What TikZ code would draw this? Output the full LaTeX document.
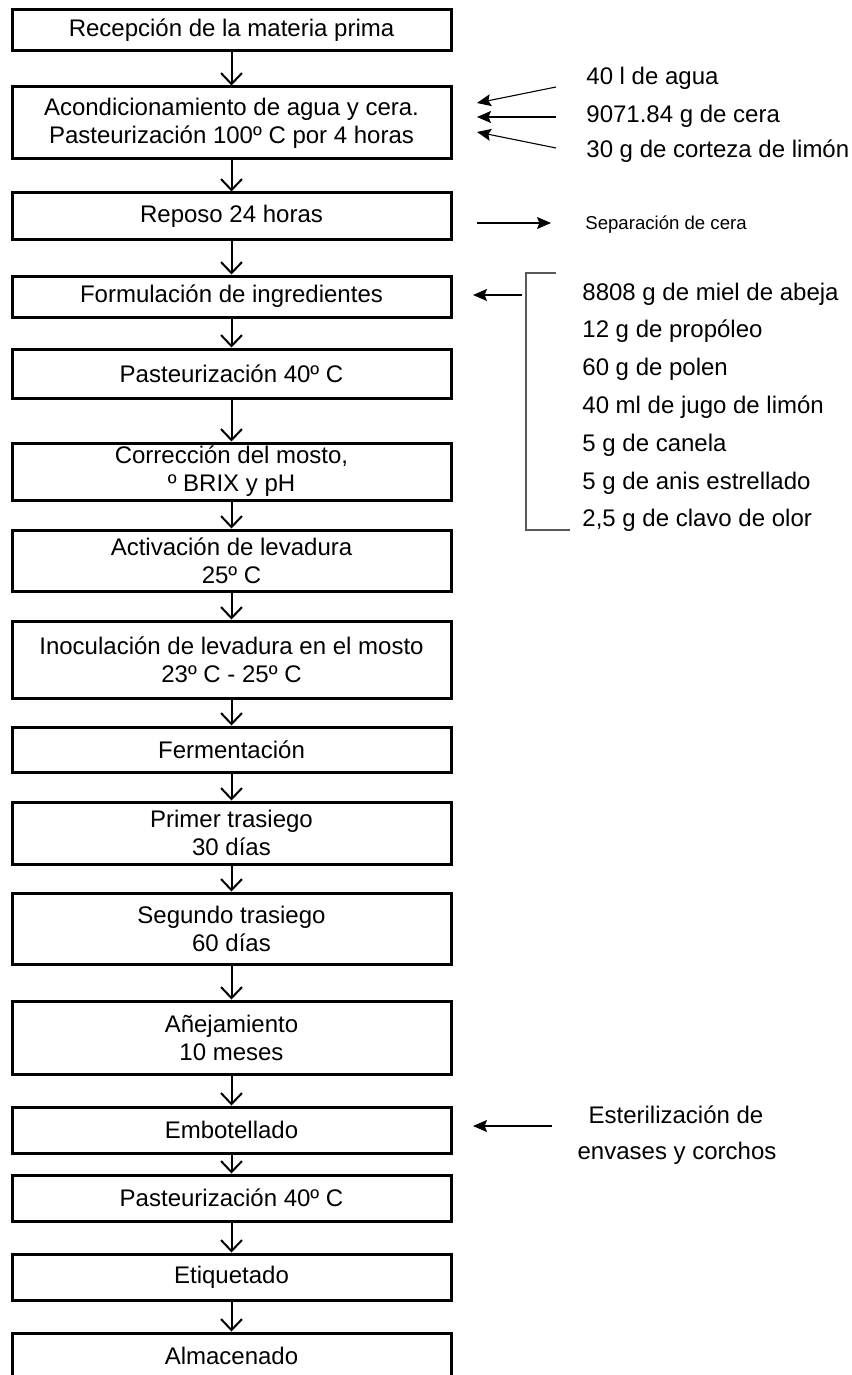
\documentclass[tikz,border=0pt]{standalone}
\usepackage{fontspec}
\setmainfont{Liberation Sans}
\usetikzlibrary{arrows.meta}
\begin{document}
\begin{tikzpicture}[x=0.5pt,y=-0.5pt,
  box/.style={draw, line width=1.5pt, minimum width=219.5pt, inner sep=0pt, align=center, font=\fontsize{12}{14}\selectfont},
  flow/.style={line width=1pt, -{Straight Barb[length=5.5pt,width=10.5pt,line width=1pt]}},
  side/.style={line width=0.55pt, -{Stealth[length=7pt,width=6pt,inset=1.2pt]}},
  lbl/.style={anchor=base west, inner sep=0pt, font=\fontsize{12}{14}\selectfont},
  small/.style={anchor=base west, inner sep=0pt, font=\fontsize{9.3}{11}\selectfont},
]
\useasboundingbox (0,0) rectangle (851,1375);
\clip (0,0) rectangle (851,1375);
\fill[white] (0,0) rectangle (851,1375);

% process boxes
\node[box, minimum height=20.5pt] (b1)  at (231.5,30.5)  {Recepción de la materia prima};
\node[box, minimum height=36pt]   (b2)  at (231.5,123)   {Acondicionamiento de agua y cera.\\Pasteurización 100º C por 4 horas};
\node[box, minimum height=23.5pt] (b3)  at (231.5,216.5) {Reposo 24 horas};
\node[box, minimum height=20.5pt] (b4)  at (231.5,296.5) {Formulación de ingredientes};
\node[box, minimum height=24.5pt] (b5)  at (231.5,373.5) {Pasteurización 40º C};
\node[box, minimum height=28.5pt] (b6)  at (231.5,471.5) {Corrección del mosto,\\º BRIX y pH};
\node[box, minimum height=30.5pt] (b7)  at (231.5,560.5) {Activación de levadura\\25º C};
\node[box, minimum height=38.5pt] (b8)  at (231.5,659.5) {Inoculación de levadura en el mosto\\23º C - 25º C};
\node[box, minimum height=22.5pt] (b9)  at (231.5,749.5) {Fermentación};
\node[box, minimum height=31pt]   (b10) at (231.5,833)   {Primer trasiego\\30 días};
\node[box, minimum height=35.5pt] (b11) at (231.5,928.5) {Segundo trasiego\\60 días};
\node[box, minimum height=36.5pt] (b12) at (231.5,1037.5){Añejamiento\\10 meses};
\node[box, minimum height=23pt]   (b13) at (231.5,1130)  {Embotellado};
\node[box, minimum height=23pt]   (b14) at (231.5,1198)  {Pasteurización 40º C};
\node[box, minimum height=23pt]   (b15) at (231.5,1277)  {Etiquetado};
\node[box, minimum height=22.5pt] (b16) at (231.5,1355.5){Almacenado};

% flow arrows
\foreach \a/\b in {b1/b2,b2/b3,b3/b4,b4/b5,b5/b6,b6/b7,b7/b8,b8/b9,b9/b10,b10/b11,b11/b12,b12/b13,b13/b14,b14/b15,b15/b16}
  \draw[flow] (\a.south) -- (\b.north);

% inputs to b2
\node[lbl] (i1) at (586,85)  {40 l de agua};
\node[lbl] (i2) at (586,123) {9071.84 g de cera};
\node[lbl] (i3) at (586,158) {30 g de corteza de limón};
\coordinate (s1) at (556,87);  \coordinate (e1) at (477,103);
\coordinate (s2) at (556,117); \coordinate (e2) at (477,117);
\coordinate (s3) at (556,148); \coordinate (e3) at (477,132);
\draw[side] (s1) -- (e1);
\draw[side] (s2) -- (e2);
\draw[side] (s3) -- (e3);

% output of b3
\coordinate (s4) at (477,223); \coordinate (e4) at (551,223);
\draw[side] (s4) -- (e4);
\node[small] (o1) at (585,229.5) {Separación de cera};

% ingredients for b4
\foreach \t [count=\k from 0] in {8808 g de miel de abeja,12 g de propóleo,60 g de polen,40 ml de jugo de limón,5 g de canela,5 g de anis estrellado,{2,5 g de clavo de olor}}
  \node[lbl] (g\k) at (582,300+37.8*\k) {\t};
\coordinate (k1) at (556,273); \coordinate (k2) at (526,273);
\coordinate (k3) at (526,530); \coordinate (k4) at (570,530);
\draw[black!65, line width=0.6pt] (k1) -- (k2) -- (k3) -- (k4);
\coordinate (s5) at (522,295); \coordinate (e5) at (473,295);
\draw[side] (s5) -- (e5);

% input to b13
\node[anchor=base, inner sep=0pt, font=\fontsize{12}{14}\selectfont] (x1) at (676,1123) {Esterilización de};
\node[anchor=base, inner sep=0pt, font=\fontsize{12}{14}\selectfont] (x2) at (677,1159) {envases y corchos};
\coordinate (s6) at (552,1126); \coordinate (e6) at (473,1126);
\draw[side] (s6) -- (e6);
\end{tikzpicture}
\end{document}
